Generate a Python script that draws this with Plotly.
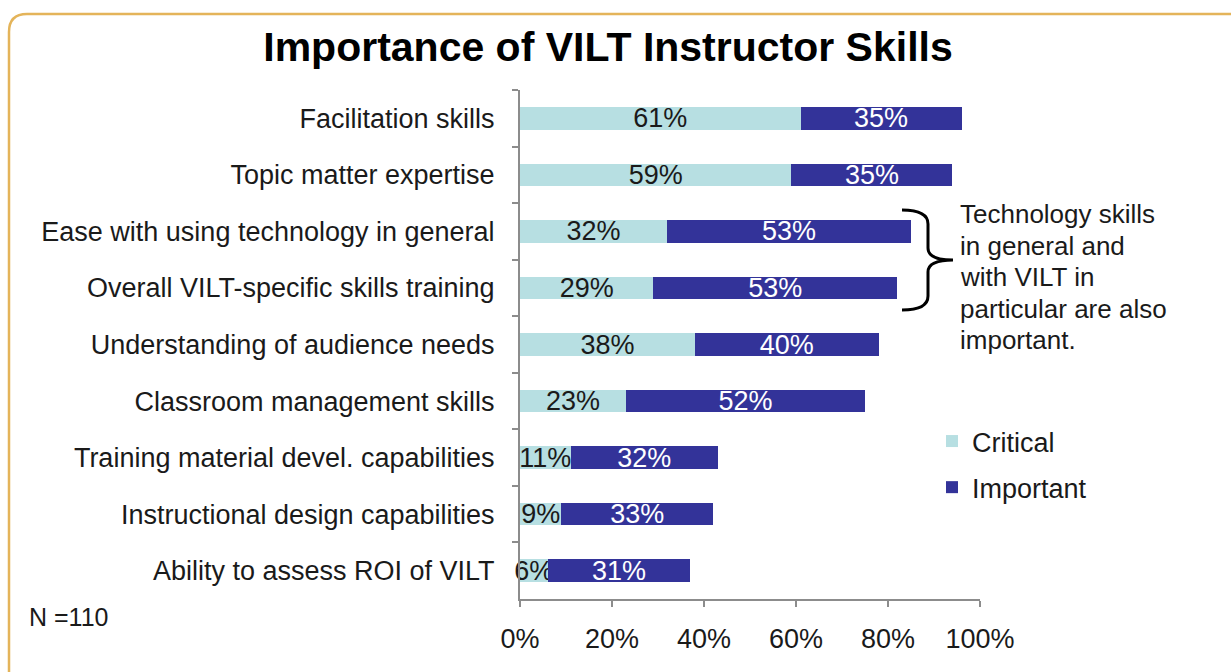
import plotly.graph_objects as go

categories = [
    "Facilitation skills",
    "Topic matter expertise",
    "Ease with using technology in general",
    "Overall VILT-specific skills training",
    "Understanding of audience needs",
    "Classroom management skills",
    "Training material devel. capabilities",
    "Instructional design capabilities",
    "Ability to assess ROI of VILT",
]
critical = [61, 59, 32, 29, 38, 23, 11, 9, 6]
important = [35, 35, 53, 53, 40, 52, 32, 33, 31]
x_tick_vals = [0, 20, 40, 60, 80, 100]
x_tick_text = ["0%", "20%", "40%", "60%", "80%", "100%"]
note_lines = ["Technology skills", "in general and", "with VILT in",
              "particular are also", "important."]

FONT = "Arial, Liberation Sans, sans-serif"
W, H = 1231, 672
L, R, T, B = 520, 980, 90, 599  # plot area in px


def px(x):
    return (x - L) / (R - L)


def py(y):
    return (B - y) / (B - T)


fig = go.Figure()
fig.add_trace(go.Bar(
    y=categories, x=critical, orientation="h", name="Critical",
    marker=dict(color="#B7DFE2", line=dict(width=0)),
    width=0.4, text=[f"{v}%" for v in critical], textposition="inside",
    insidetextanchor="middle", constraintext="none", cliponaxis=False,
    textfont=dict(color="#1a1a1a", size=27, family=FONT),
    legendgroup="a",
))
fig.add_trace(go.Bar(
    y=categories, x=important, orientation="h", name="Important",
    marker=dict(color="#333399", line=dict(width=0)),
    width=0.4, text=[f"{v}%" for v in important], textposition="inside",
    insidetextanchor="middle", constraintext="none", cliponaxis=False,
    textfont=dict(color="#ffffff", size=27, family=FONT),
    legendgroup="b",
))

# rounded border
r = 18
x0, y0 = 9, 14
x1, y1 = 1260, 700
border = (f"M {px(x0)},{py(y1)} L {px(x0)},{py(y0 + r)} "
          f"Q {px(x0)},{py(y0)} {px(x0 + r)},{py(y0)} L {px(x1)},{py(y0)}")
# brace
bx0, bx1, bt = 902, 928, 953
yt, ym, yb = 210, 260, 310
brace = (f"M {px(bx0)},{py(yt)} Q {px(bx1)},{py(yt)} {px(bx1)},{py(yt + 14)} "
         f"L {px(bx1)},{py(ym - 12)} Q {px(bx1)},{py(ym)} {px(bt)},{py(ym)} "
         f"Q {px(bx1)},{py(ym)} {px(bx1)},{py(ym + 12)} "
         f"L {px(bx1)},{py(yb - 14)} Q {px(bx1)},{py(yb)} {px(bx0)},{py(yb)}")

annotations = []
for i, line in enumerate(note_lines):
    annotations.append(dict(
        text=line, xref="paper", yref="paper", x=px(958), y=py(214 + i * 31.6),
        xanchor="left", yanchor="middle", align="left", showarrow=False,
        font=dict(size=26, color="#1a1a1a", family=FONT)))
annotations.append(dict(
    text="N =110", xref="paper", yref="paper", x=px(27), y=py(617),
    xanchor="left", yanchor="middle", showarrow=False,
    font=dict(size=25, color="#1a1a1a", family=FONT)))

fig.update_layout(
    width=W, height=H,
    margin=dict(l=L, r=W - R, t=T, b=H - B, pad=0, autoexpand=False),
    paper_bgcolor="white", plot_bgcolor="white",
    barmode="stack",
    font=dict(family=FONT, color="#1a1a1a", size=27),
    uniformtext=dict(minsize=27, mode="show"),
    title=dict(text="<b>Importance of VILT Instructor Skills</b>",
               x=(608 / W), xanchor="center", y=1 - 47 / H, yanchor="middle",
               font=dict(size=41, color="#000000", family=FONT)),
    showlegend=True,
    legend=dict(x=px(932), y=py(417), xanchor="left", yanchor="top",
                font=dict(size=27, color="#1a1a1a", family=FONT),
                traceorder="grouped", tracegroupgap=8,
                bgcolor="rgba(0,0,0,0)"),
    xaxis=dict(range=[0, 100], tickvals=x_tick_vals, ticktext=x_tick_text,
               showgrid=False, zeroline=False, showline=True, automargin=False,
               linecolor="#8c8c8c", linewidth=2, ticks="outside", ticklen=6,
               tickcolor="#8c8c8c", tickwidth=2, ticklabelstandoff=9,
               tickfont=dict(size=27, color="#1a1a1a")),
    yaxis=dict(categoryorder="array", categoryarray=categories,
               autorange="reversed", showgrid=False, zeroline=False,
               showline=True, automargin=False, linecolor="#8c8c8c", linewidth=2,
               ticks="outside", tickson="boundaries", ticklen=6,
               tickcolor="#8c8c8c", tickwidth=2, ticklabelstandoff=18,
               tickfont=dict(size=27, color="#1a1a1a")),
    shapes=[
        dict(type="path", xref="paper", yref="paper", path=border,
             line=dict(color="#E4B45A", width=2.5), layer="below"),
        dict(type="path", xref="paper", yref="paper", path=brace,
             line=dict(color="#000000", width=3)),
    ],
    annotations=annotations,
)

fig.write_html("out.html")
